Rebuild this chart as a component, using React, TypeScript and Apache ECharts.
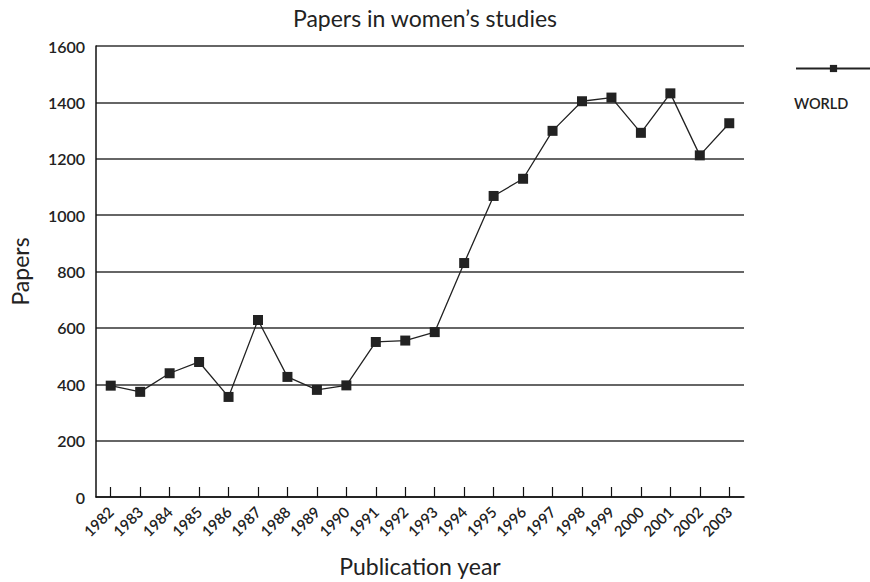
import React, { useEffect, useRef } from "react";
import * as echarts from "echarts";

const years = [
  "1982", "1983", "1984", "1985", "1986", "1987", "1988", "1989", "1990", "1991", "1992",
  "1993", "1994", "1995", "1996", "1997", "1998", "1999", "2000", "2001", "2002", "2003",
];
const worldPapers = [
  395, 373, 439, 479, 355, 628, 426, 380, 396, 550, 555,
  585, 830, 1068, 1129, 1299, 1404, 1417, 1292, 1432, 1212, 1326,
];
const yTicks = { min: 0, max: 1600, interval: 200 };

const FONT = "Lato, 'Open Sans', sans-serif";

export default function App() {
  const ref = useRef<HTMLDivElement>(null);
  useEffect(() => {
    if (!ref.current) return;
    const chart = echarts.init(ref.current, undefined, { renderer: "svg" });
    chart.setOption({
      animation: false,
      backgroundColor: "#ffffff",
      textStyle: { fontFamily: FONT },
      title: {
        text: "Papers in women’s studies",
        left: 420,
        textAlign: "center",
        top: 1,
        textStyle: { fontSize: 23, fontWeight: "normal", color: "#222", fontFamily: FONT },
      },
      grid: { left: 96, right: 126, top: 46, bottom: 85, containLabel: false, outerBoundsMode: "none" },
      legend: {
        show: true,
        left: 790,
        top: 59,
        itemWidth: 75,
        itemHeight: 9,
        formatter: () => "",
        data: ["WORLD"],
      },
      graphic: [
        {
          type: "text",
          left: 794,
          top: 96,
          style: { text: "WORLD", fontSize: 14.5, fontWeight: 600, fill: "#222", fontFamily: FONT },
        },
      ],
      xAxis: {
        type: "category",
        data: years,
        boundaryGap: true,
        name: "Publication year",
        nameLocation: "middle",
        nameGap: 57,
        nameTextStyle: { fontSize: 23, color: "#222", fontFamily: FONT },
        axisLine: { show: true, lineStyle: { color: "#111", width: 1.5 } },
        axisTick: { show: true, alignWithLabel: true, inside: true, length: 10, lineStyle: { color: "#111", width: 1.2 } },
        axisLabel: { rotate: 45, fontSize: 15, fontWeight: 600, color: "#222", margin: 12, interval: 0, fontFamily: FONT },
        splitLine: { show: false },
      },
      yAxis: {
        type: "value",
        min: yTicks.min,
        max: yTicks.max,
        interval: yTicks.interval,
        name: "Papers",
        nameLocation: "middle",
        nameGap: 65,
        nameRotate: 90,
        nameTextStyle: { fontSize: 23, color: "#222", fontFamily: FONT },
        axisLine: { show: true, lineStyle: { color: "#111", width: 1.5 } },
        axisTick: { show: false },
        axisLabel: {
          fontSize: 16,
          fontWeight: 600,
          color: "#222",
          margin: 11,
          fontFamily: FONT,
          formatter: (v: number) => String(v),
        },
        splitLine: { show: true, lineStyle: { color: "#333", width: 1.5 } },
      },
      series: [
        {
          name: "WORLD",
          type: "line",
          data: worldPapers,
          symbol: "rect",
          symbolSize: 10,
          itemStyle: { color: "#222" },
          lineStyle: { color: "#222", width: 1.3 },
        },
      ],
    });
    return () => chart.dispose();
  }, []);
  return <div ref={ref} style={{ width: 870, height: 582, position: "absolute", left: 0, top: 0 }} />;
}
